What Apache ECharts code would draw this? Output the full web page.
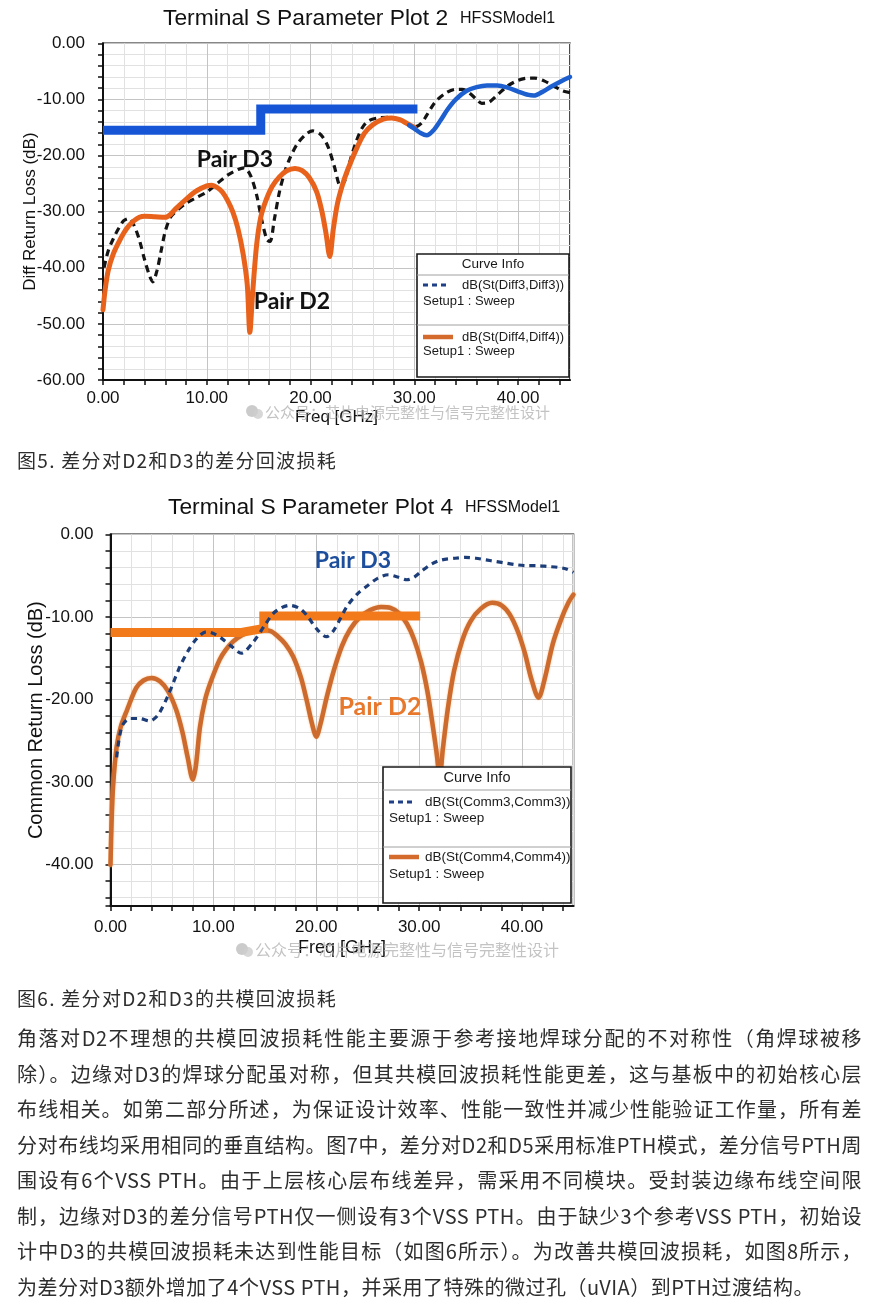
<!DOCTYPE html>
<html><head><meta charset="utf-8">
<script src="https://cdn.jsdelivr.net/npm/echarts@6/dist/echarts.min.js"></script>
<style>
html,body{margin:0;padding:0;background:#fff;}
#wrap{position:relative;width:880px;height:1312px;overflow:hidden;background:#fff;}
#c{position:absolute;left:0;top:0;width:880px;height:1312px;}
.t{position:absolute;left:17px;width:845px;height:30px;font-family:"Noto Sans CJK SC",sans-serif;font-size:20px;line-height:30px;color:#2e2e2e;letter-spacing:0.5px;}
.j{text-align:justify;text-align-last:justify;}
.cap{font-size:19px;letter-spacing:1.3px;}
</style></head>
<body><div id="wrap"><div id="c"></div></div>
<script>
// ---------- data (GHz, dB) ----------
// Figure 5: differential return loss
const diffD3 = [[0.1,-40],[0.5,-37],[1,-34.8],[1.5,-33],[2,-31.6],[2.5,-31.2],[3,-32.5],[3.5,-35],[4,-38.5],[4.5,-41.5],[4.8,-42.5],[5.2,-40.5],[5.6,-37],[6,-33.5],[6.5,-31],[7,-30],[8,-28.5],[9,-27.5],[10,-26.5],[11,-25],[12,-23.5],[13,-22.5],[13.6,-22.2],[14.2,-23.5],[14.8,-27],[15.3,-31.5],[15.8,-35],[16.1,-35.3],[16.5,-31.5],[17,-26.5],[17.5,-23],[18,-20.5],[18.7,-18],[19.5,-16.3],[20.2,-15.6],[21,-16.3],[21.7,-18.5],[22.3,-22],[22.9,-25.5],[23.3,-24.5],[23.8,-21],[24.4,-17.5],[25,-15],[25.6,-13.8],[26.5,-13.3],[27.5,-13.2],[28.5,-13.6],[29.5,-14.5],[30.2,-14.8],[30.7,-14.2],[31.2,-12.8],[32,-10.5],[33,-8.9],[34,-8.2],[34.6,-8.2],[35.2,-8.7],[36,-10],[36.5,-10.7],[37.2,-10.5],[38,-9.2],[39,-7.6],[40,-6.6],[41,-6.2],[41.6,-6.2],[42.5,-6.7],[43.5,-7.7],[44.3,-8.5],[45,-8.8]];
const diffD2 = [[0,-47.5],[0.2,-44],[0.5,-40.5],[1,-37.5],[1.5,-35.5],[2,-33.8],[2.5,-32.5],[3,-31.6],[3.5,-31],[4,-30.8],[5,-30.9],[6,-31],[6.5,-30.5],[7,-29.5],[8,-27.8],[9,-26.3],[10,-25.4],[10.5,-25.3],[11,-25.7],[11.5,-26.5],[12,-28],[12.5,-30],[13,-33],[13.5,-37.5],[13.9,-43],[14.15,-51.5],[14.4,-45],[14.8,-36],[15.2,-31],[15.7,-28],[16.3,-25.5],[17,-23.8],[17.7,-22.7],[18.5,-22.3],[19.2,-22.7],[19.9,-24],[20.6,-26.5],[21.1,-30],[21.5,-34],[21.85,-38],[22.2,-33],[22.6,-28.5],[23.2,-24.5],[23.8,-21.5],[24.5,-18.5],[25.2,-16],[26,-14.5],[27,-13.5],[27.8,-13.3],[28.6,-13.6],[29.3,-14.3],[30,-15]];
const diffD2High = [[29.5,-14.6],[30,-15.2],[30.6,-16],[31.2,-16.4],[31.8,-15.6],[32.5,-13.8],[33.2,-11.8],[34,-10],[35,-8.5],[36,-7.8],[37,-7.5],[38,-7.5],[39,-7.9],[40,-8.6],[41,-9.2],[41.5,-9.3],[42.3,-8.7],[43.2,-7.7],[44.2,-6.7],[45,-6]];
const diffSpec = [[0,-15.5],[15.2,-15.5],[15.2,-11.7],[30.3,-11.7]];
// Figure 6: common-mode return loss
const commD3 = [[0.6,-27],[1.1,-23.3],[1.9,-22.3],[2.8,-22.3],[3.8,-22.6],[4.6,-21.9],[5.6,-19.5],[6.75,-16],[7.6,-14],[8.4,-12.6],[9.3,-11.8],[10,-12],[10.8,-12.6],[11.8,-13.6],[12.7,-14.4],[13.9,-13],[15,-11],[15.8,-9.6],[16.6,-8.9],[17.4,-8.6],[18.4,-9],[19.2,-10],[20,-11.4],[21,-12.4],[21.6,-11.8],[22.3,-10.3],[23,-8.7],[24,-7.2],[25,-6.2],[26,-5.3],[27,-4.9],[28,-5.2],[28.8,-5.5],[29.5,-5.2],[30.3,-4.4],[31.2,-3.6],[32.2,-3.1],[33.5,-2.9],[34.5,-2.8],[35.5,-2.9],[36.5,-3.1],[37.5,-3.3],[38.5,-3.5],[39.5,-3.7],[40.5,-3.8],[41.5,-3.8],[42.5,-3.9],[43.5,-4],[44.3,-4.2],[45,-4.6]];
const commD2 = [[0,-40],[0.1,-35],[0.25,-30.5],[0.6,-25.7],[1,-23.3],[1.6,-21.3],[2.5,-18.6],[3.2,-17.7],[4,-17.4],[4.8,-17.8],[5.6,-19],[6.4,-21.3],[7,-24],[7.5,-27],[8,-29.7],[8.3,-28],[8.7,-23.3],[9.2,-20],[9.7,-18],[10.6,-15.2],[11.2,-14],[11.9,-13],[12.8,-12.2],[13.6,-11.8],[14.4,-11.6],[15.5,-11.7],[16.3,-12.4],[17,-13.3],[17.75,-14.8],[18.5,-17.3],[19.05,-20],[19.6,-23],[20,-24.5],[20.4,-23],[21,-19.8],[21.7,-16.5],[22.5,-13.5],[23.3,-11.5],[24.2,-10.1],[25.2,-9.2],[26.3,-8.8],[27.2,-8.9],[28,-9.5],[28.8,-10.8],[29.5,-12.7],[30.2,-15.5],[30.8,-19],[31.3,-23],[31.7,-26.5],[32,-29.5],[32.3,-26],[32.8,-21],[33.4,-16.5],[34.2,-12.8],[35,-10.5],[36,-9],[37.1,-8.3],[38,-8.6],[38.8,-9.7],[39.6,-11.8],[40.3,-14.5],[40.9,-17.5],[41.6,-19.8],[42.2,-17.5],[43,-13.2],[43.8,-10.3],[44.5,-8.3],[45,-7.3]];
const commSpec = [[0,-11.9],[12.6,-11.9],[14.9,-11.4],[14.9,-9.9],[30.1,-9.9]];

// axis ranges / tick labels
const freqRange = [0, 45];
const diffRange = [-60, 0];
const commRange = [-45, 0];
const majorStep = 10;

// text
const legend5 = ['Curve Info','dB(St(Diff3,Diff3))','Setup1 : Sweep','dB(St(Diff4,Diff4))','Setup1 : Sweep'];
const legend6 = ['Curve Info','dB(St(Comm3,Comm3))','Setup1 : Sweep','dB(St(Comm4,Comm4))','Setup1 : Sweep'];
const watermark = '公众号：芯片电源完整性与信号完整性设计';
const caption5 = '图5. 差分对D2和D3的差分回波损耗';
const caption6 = '图6. 差分对D2和D3的共模回波损耗';
const paragraph = [
 '角落对D2不理想的共模回波损耗性能主要源于参考接地焊球分配的不对称性（角焊球被移',
 '除）。边缘对D3的焊球分配虽对称，但其共模回波损耗性能更差，这与基板中的初始核心层',
 '布线相关。如第二部分所述，为保证设计效率、性能一致性并减少性能验证工作量，所有差',
 '分对布线均采用相同的垂直结构。图7中，差分对D2和D5采用标准PTH模式，差分信号PTH周',
 '围设有6个VSS PTH。由于上层核心层布线差异，需采用不同模块。受封装边缘布线空间限',
 '制，边缘对D3的差分信号PTH仅一侧设有3个VSS PTH。由于缺少3个参考VSS PTH，初始设',
 '计中D3的共模回波损耗未达到性能目标（如图6所示）。为改善共模回波损耗，如图8所示，',
 '为差分对D3额外增加了4个VSS PTH，并采用了特殊的微过孔（uVIA）到PTH过渡结构。'
];

// ---------- HTML text ----------
const wrap = document.getElementById('wrap');
function addLine(txt, cy, cls){
  const d = document.createElement('div');
  d.className = 't ' + cls;
  d.style.top = (cy - 15) + 'px';
  d.textContent = txt;
  wrap.appendChild(d);
}
addLine(caption5, 460, 'cap');
addLine(caption6, 998, 'cap');
paragraph.forEach((s, i) => addLine(s, 1038 + i * 35.5, i < paragraph.length - 1 ? 'j' : ''));

// ---------- chart ----------
const FONT = "'Liberation Sans', Arial, sans-serif";
const gridColors = ['#c4c4c4','#e1e1e1','#e1e1e1','#e1e1e1','#e1e1e1'];
const isMajor = v => Math.abs(v / majorStep - Math.round(v / majorStep)) < 1e-6;
const fmt = v => isMajor(v) ? (Math.abs(v) < 1e-9 ? '0.00' : v.toFixed(2)) : '';
const fmtNeg = v => isMajor(v) ? (Math.abs(v) < 1e-9 ? '0.00' : (-v).toFixed(2)) : '';

function xAxis(gi, nameGap, nameSize, margin){
  return {type:'value', gridIndex:gi, min:freqRange[0], max:freqRange[1], interval:2,
    name:'Freq [GHz]', nameLocation:'middle', nameGap:nameGap, nameMoveOverlap:false,
    nameTextStyle:{fontSize:nameSize, color:'#111', fontFamily:FONT},
    axisLine:{show:true, onZero:false, lineStyle:{color:'#111', width:2}},
    axisTick:{show:true, inside:false, length:5, lineStyle:{color:'#111', width:1.5}},
    axisLabel:{fontSize:17, color:'#111', margin:margin, fontFamily:FONT, formatter:fmt, showMaxLabel:false},
    splitLine:{show:true, lineStyle:{color:gridColors, width:1}}};
}
function yStyle(o, name, nameGap, nameSize, margin, f){
  return Object.assign(o, {
    name:name, nameLocation:'middle', nameGap:nameGap, nameMoveOverlap:false,
    nameTextStyle:{fontSize:nameSize, color:'#111', fontFamily:FONT},
    axisLine:{show:true, onZero:false, lineStyle:{color:'#111', width:2}},
    axisTick:{show:true, inside:false, length:5, lineStyle:{color:'#111', width:1.5}},
    axisLabel:{fontSize:17, color:'#111', margin:margin, fontFamily:FONT, formatter:f},
    splitLine:{show:true, lineStyle:{color:gridColors, width:1}}});
}

function legendBox(x, y, w, h, rows, fs, hfs, pos){
  const z = 100;
  const els = [
    {type:'rect', z:z, shape:{x:x, y:y, width:w, height:h}, style:{fill:'#fff', stroke:'#1a1a1a', lineWidth:1.6}},
    {type:'text', z:z+1, style:{text:rows[0], x:x + w/2, y:pos.head, fontSize:hfs, fontFamily:FONT, fill:'#1a1a1a', align:'center', verticalAlign:'middle', textAlign:'center', textVerticalAlign:'middle'}},
    {type:'line', z:z+1, shape:{x1:x, y1:pos.sep1, x2:x+w, y2:pos.sep1}, style:{stroke:'#a0a0a0', lineWidth:1}},
    {type:'line', z:z+1, shape:{x1:x+6, y1:pos.r1, x2:x+6+pos.dashLen, y2:pos.r1}, style:{stroke:'#1f3f86', lineWidth:3, lineDash:[5,4]}},
    {type:'line', z:z+1, shape:{x1:x, y1:pos.sep2, x2:x+w, y2:pos.sep2}, style:{stroke:'#a0a0a0', lineWidth:1}},
    {type:'line', z:z+1, shape:{x1:x+6, y1:pos.r3, x2:x+6+pos.solidLen, y2:pos.r3}, style:{stroke:'#d46a2c', lineWidth:4.5}}
  ];
  const txt = (t, tx, ty) => ({type:'text', z:z+1, style:{text:t, x:tx, y:ty, fontSize:fs, fontFamily:FONT, fill:'#1a1a1a', align:'left', verticalAlign:'middle', textAlign:'left', textVerticalAlign:'middle'}});
  els.push(txt(rows[1], pos.tx, pos.r1));
  els.push(txt(rows[2], x+6, pos.r2));
  els.push(txt(rows[3], pos.tx, pos.r3));
  els.push(txt(rows[4], x+6, pos.r4));
  return els;
}
function annot(t, x, y, size, color){
  return {type:'text', z:90, style:{text:t, x:x, y:y, fontSize:size, fontWeight:'bold', fontFamily:"Lato, 'Liberation Sans', sans-serif", fill:color, align:'center', verticalAlign:'middle', textAlign:'center', textVerticalAlign:'middle'}};
}
function wm(x, y, size){
  return [
    {type:'circle', z:95, shape:{cx:x-13, cy:y-1, r:6}, style:{fill:'rgba(190,190,190,0.8)'}},
    {type:'circle', z:95, shape:{cx:x-7, cy:y+2, r:5}, style:{fill:'rgba(205,205,205,0.8)'}},
    {type:'text', z:95, style:{text:watermark, x:x, y:y, fontSize:size, fontFamily:"'Noto Sans CJK SC', sans-serif", fill:'rgba(175,175,175,0.75)', align:'left', verticalAlign:'middle', textAlign:'left', textVerticalAlign:'middle'}}
  ];
}

const lineSeries = (xi, yi, data, color, width, z, extra) => Object.assign({
  type:'line', xAxisIndex:xi, yAxisIndex:yi, data:data, symbol:'none', showSymbol:false,
  smooth:0.3, z:z, silent:true,
  lineStyle:{color:color, width:width, cap:'round', join:'round'}
}, extra || {});

const option = {
  animation:false,
  backgroundColor:'#fff',
  title:[
    {text:'Terminal S Parameter Plot 2', left:163, top:7, padding:0, textStyle:{fontSize:22.8, fontWeight:'normal', color:'#111', fontFamily:FONT}},
    {text:'HFSSModel1', left:460, top:11, padding:0, textStyle:{fontSize:16, fontWeight:'normal', color:'#111', fontFamily:FONT}},
    {text:'Terminal S Parameter Plot 4', left:168, top:496, padding:0, textStyle:{fontSize:22.8, fontWeight:'normal', color:'#111', fontFamily:FONT}},
    {text:'HFSSModel1', left:465, top:500, padding:0, textStyle:{fontSize:16, fontWeight:'normal', color:'#111', fontFamily:FONT}}
  ],
  grid:[
    {left:103, top:43.3, width:467, height:336.7, show:true, borderColor:'#111', borderWidth:1.5, backgroundColor:'#fff', containLabel:false, outerBoundsMode:'none'},
    {left:110.5, top:534.3, width:463, height:371.7, show:true, borderColor:'#111', borderWidth:1.5, backgroundColor:'#fff', containLabel:false, outerBoundsMode:'none'}
  ],
  xAxis:[ xAxis(0, 29, 17, 10), xAxis(1, 33, 18, 13) ],
  yAxis:[
    yStyle({type:'value', gridIndex:0, min:diffRange[0], max:diffRange[1], interval:2, position:'left'}, 'Diff Return Loss (dB)', 64, 17, 18, fmt),
    {type:'value', gridIndex:1, min:commRange[0], max:commRange[1], position:'right', show:false},
    yStyle({type:'value', gridIndex:1, min:-commRange[1], max:-commRange[0], inverse:true, interval:2, position:'left'}, 'Common Return Loss (dB)', 64, 20, 17, fmtNeg)
  ],
  series:[
    lineSeries(0,0,diffD3,'#141414',3,3,{lineStyle:{color:'#141414', width:3.2, type:[7,5], cap:'butt'}}),
    lineSeries(0,0,diffD2,'#e8621c',5,4),
    lineSeries(0,0,diffD2High,'#1d5fcf',4.5,4),
    lineSeries(0,0,diffSpec,'#1656d6',9,5,{smooth:false, lineStyle:{color:'#1656d6', width:9, cap:'butt', join:'miter'}}),
    lineSeries(1,1,commD2,'#cd6a2d',4.5,3,{lineStyle:{color:'#cd6a2d', width:4.5, cap:'round', join:'round', shadowColor:'rgba(250,175,110,0.9)', shadowBlur:2}}),
    lineSeries(1,1,commSpec,'#f27a1a',9,4,{smooth:false, lineStyle:{color:'#f27a1a', width:9, cap:'butt', join:'miter'}}),
    lineSeries(1,1,commD3,'#1c3d78',3,5,{lineStyle:{color:'#1c3d78', width:3.2, type:[6,5], cap:'butt'}})
  ],
  graphic:{elements:[].concat(
    legendBox(417, 254, 152, 123, legend5, 13, 13.5, {head:264, sep1:275, r1:285, r2:301, sep2:325, r3:337, r4:351, tx:462, dashLen:25, solidLen:30}),
    legendBox(383, 767, 188, 136, legend6, 13.5, 14.5, {head:778, sep1:790, r1:802, r2:818, sep2:847, r3:857, r4:874, tx:425, dashLen:26, solidLen:30}),
    [annot('Pair D3', 235, 160, 23, '#111'), annot('Pair D2', 292, 302, 23, '#111'),
     annot('Pair D3', 353, 561, 23, '#1c4e9c'), annot('Pair D2', 380, 707, 25, '#e8782c')],
    wm(265, 412, 15), wm(255, 950, 16)
  )}
};
const chart = echarts.init(document.getElementById('c'), null, {renderer:'canvas', width:880, height:1312});
chart.setOption(option);
</script>
</body></html>
